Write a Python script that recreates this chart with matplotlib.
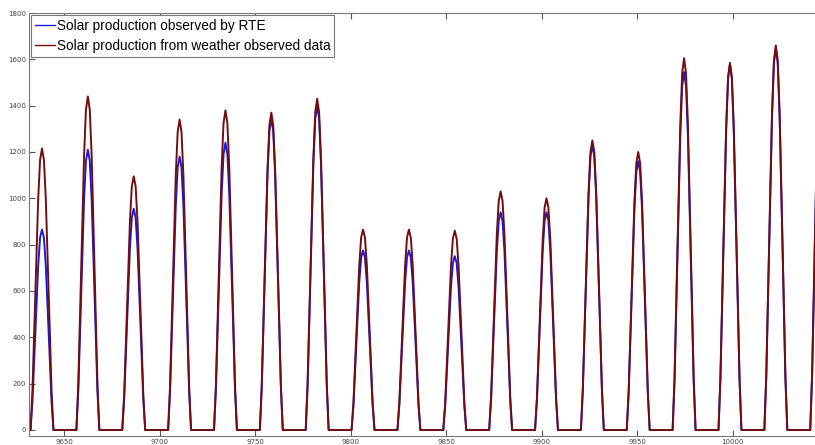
import numpy as np
import matplotlib
matplotlib.use("Agg")
import matplotlib.pyplot as plt

# hourly index of first day (peak of each day is 12 h later)
day_start = 9626.5
n_days = 18

# daily peaks
rte_peaks = [865, 1210, 955, 1180, 1240, 1345, 1400, 775, 775, 750,
             940, 940, 1230, 1160, 1545, 1580, 1650, 1750]
weather_peaks = [1215, 1440, 1095, 1340, 1380, 1370, 1430, 865, 865, 860,
                 1030, 1000, 1250, 1200, 1605, 1585, 1660, 1700]

# relative hourly shape of a day (hours 0..23)
day_shape = [0, 0, 0, 0, 0, 0, 0, 0.14, 0.37, 0.60, 0.82, 0.96,
             1.0, 0.96, 0.82, 0.60, 0.37, 0.14, 0, 0, 0, 0, 0, 0]

hours = day_start + np.arange(n_days * 24)
rte = np.concatenate([p * np.array(day_shape) for p in rte_peaks])
weather = np.concatenate([p * np.array(day_shape) for p in weather_peaks])

fig = plt.figure(figsize=(8.15, 4.45), dpi=100)
ax = fig.add_axes([29 / 815, 9 / 445, 1 - 29 / 815, (436 - 13) / 445])

ax.plot(hours, rte, color='#1a1ad8', lw=1.4, label='Solar production observed by RTE')
ax.plot(hours, weather, color='#720e0e', lw=1.4, label='Solar production from weather observed data')

ax.set_xlim(9631.7, 10043.0)
ax.set_ylim(-26, 1800)
ax.set_xticks(np.arange(9650, 10001, 50))
ax.set_yticks(np.arange(0, 1801, 200))
ax.tick_params(direction='in', length=4, width=0.8, color='#555555',
               labelsize=5, labelcolor='#444444', pad=2, top=True)
for s in ['left', 'bottom', 'top']:
    ax.spines[s].set_color('#777777')
ax.spines['right'].set_visible(False)

leg = ax.legend(loc='upper left', bbox_to_anchor=(0.003, 0.995),
                prop={'family': 'Liberation Sans', 'size': 9.8},
                handlelength=1.45, handletextpad=0.1, labelspacing=0.4,
                borderpad=0.3, borderaxespad=0, fancybox=False, framealpha=1)
leg.get_frame().set_edgecolor('#777777')
leg.get_frame().set_linewidth(0.8)
for l in leg.get_lines():
    l.set_linewidth(1.0)

fig.savefig('out.png', dpi=100)
